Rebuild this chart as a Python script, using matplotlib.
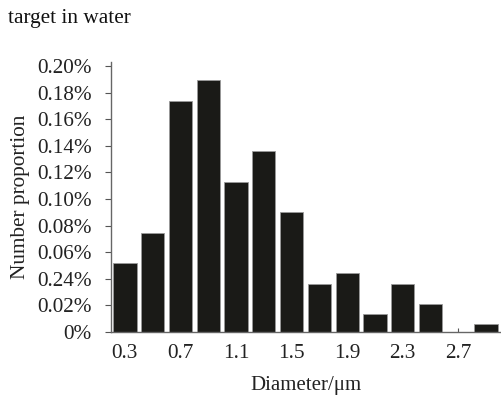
import matplotlib
matplotlib.use("Agg")
import matplotlib.pyplot as plt
import numpy as np

categories = ["0.3", "0.5", "0.7", "0.9", "1.1", "1.3", "1.5", "1.7", "1.9", "2.1", "2.3", "2.5", "2.7", "2.9"]
values = [0.052, 0.0745, 0.174, 0.1895, 0.113, 0.136, 0.090, 0.0363, 0.0441, 0.0138, 0.0363, 0.0213, 0.0, 0.006]
ytick_vals = [0, 0.02, 0.04, 0.06, 0.08, 0.10, 0.12, 0.14, 0.16, 0.18, 0.20]
ytick_labels = ["0%", "0.02%", "0.24%", "0.06%", "0.08%", "0.10%", "0.12%", "0.14%", "0.16%", "0.18%", "0.20%"]
xtick_labels = ["0.3", "", "0.7", "", "1.1", "", "1.5", "", "1.9", "", "2.3", "", "2.7", ""]

plt.rcParams['font.family'] = ['Liberation Serif', 'DejaVu Serif']

fig = plt.figure(figsize=(5.02, 3.96), dpi=100)
ax = fig.add_axes([111/502, 1 - 332/396, (500 - 111)/502, (332 - 62)/396])

x = np.arange(len(categories))
ax.bar(x, values, width=0.84, color='#1a1a17', edgecolor='#9a9a9a', linewidth=0.6, zorder=2)

ax.set_xlim(-0.5, len(categories) - 0.5)
ax.set_ylim(0, 0.203)
ax.set_yticks(ytick_vals)
ax.set_yticklabels(ytick_labels, fontsize=15.3, color='#222222')
ax.set_xticks(x)
ax.set_xticklabels(xtick_labels, fontsize=15.3, color='#222222')
ax.tick_params(axis='y', direction='out', length=4, width=0.8, color='#555555', pad=10)
ax.tick_params(axis='x', direction='in', length=3, width=0.8, color='#555555', pad=9)
for s in ['top', 'right']:
    ax.spines[s].set_visible(False)
for s in ['left', 'bottom']:
    ax.spines[s].set_color('#666666')
    ax.spines[s].set_linewidth(1.0)

ax.set_ylabel("Number proportion", fontsize=15.3, color='#222222', labelpad=5)
ax.set_xlabel("Diameter/μm", fontsize=15, color='#222222', labelpad=9)
fig.text(8/502, 1 - 18/396, "target in water", fontsize=15.3, color='#111111', va='center', ha='left')

fig.savefig("out.png", dpi=100)
